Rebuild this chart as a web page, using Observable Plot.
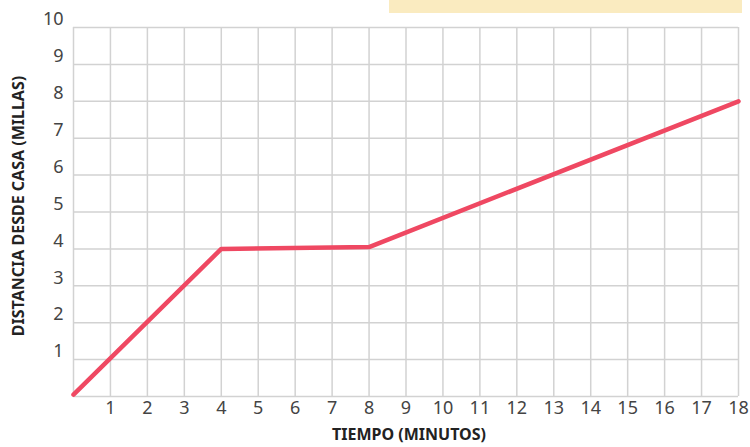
<!DOCTYPE html>
<html><head><meta charset="utf-8">
<script src="https://cdn.jsdelivr.net/npm/d3@7"></script>
<script src="https://cdn.jsdelivr.net/npm/@observablehq/plot@0.6"></script>
<style>
body{margin:0;background:#fff;}
#wrap{position:relative;width:750px;height:447px;}
#band{position:absolute;left:389px;top:0;width:353px;height:13px;background:#faebc0;}
</style>
</head><body><div id="wrap"><div id="band"></div></div>
<script>
const minutes = [0, 4, 8, 18];
const miles = [0.05, 4, 4.05, 8];
const xTicks = d3.range(1, 19);
const yTicks = d3.range(1, 11);
const xGrid = d3.range(0, 19);
const yGrid = d3.range(0, 11);

const data = minutes.map((m, i) => ({m, d: miles[i]}));

const chart = Plot.plot({
  width: 750, height: 447,
  marginLeft: 73, marginRight: 12, marginTop: 27, marginBottom: 51,
  style: {fontFamily: "'Noto Sans', sans-serif", background: "transparent", color: "#333"},
  x: {domain: [0, 18], label: null},
  y: {domain: [0, 10], label: null},
  marks: [
    Plot.ruleX(xGrid, {stroke: "#d2d2d2", strokeWidth: 1.5}),
    Plot.ruleY(yGrid, {stroke: "#d2d2d2", strokeWidth: 1.5}),
    Plot.axisX(xTicks, {tickSize: 0, tickPadding: 5, fontSize: 18, fill: "#444", label: null}),
    Plot.axisY(yTicks, {tickSize: 0, tickPadding: 10, dy: -8, fontSize: 18, fill: "#444", label: null}),
    Plot.line(data, {x: "m", y: "d", stroke: "#ef4862", strokeWidth: 4.5, strokeLinejoin: "miter"}),
    Plot.text(["TIEMPO (MINUTOS)"], {frameAnchor: "bottom", dx: 3, dy: 43, text: d => d, fontSize: 16, fontWeight: "bold", fill: "#222"}),
    Plot.text(["DISTANCIA DESDE CASA (MILLAS)"], {frameAnchor: "left", dx: -55, dy: -6, rotate: -90, textAnchor: "middle", text: d => d, fontSize: 16, fontWeight: "bold", fill: "#222"})
  ]
});
chart.style.position = "absolute";
chart.style.left = "0";
chart.style.top = "0";
document.getElementById("wrap").appendChild(chart);
</script>
</body></html>
